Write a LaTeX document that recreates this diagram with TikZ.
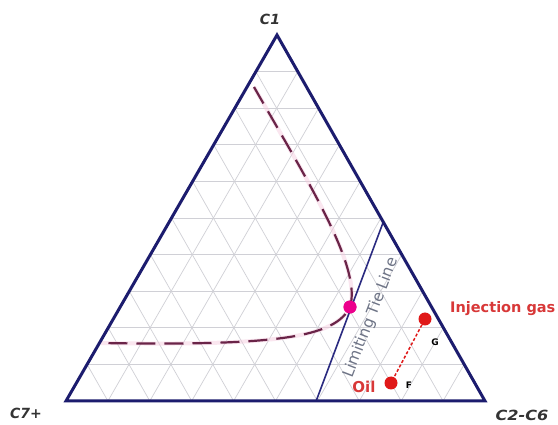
\documentclass[tikz,border=0pt]{standalone}
\usepackage{fontspec}
\setmainfont{DejaVu Sans}
\usetikzlibrary{calc}
\definecolor{navy}{HTML}{1C1C6E}
\definecolor{tieblue}{HTML}{2A2A80}
\definecolor{gridgray}{HTML}{D0D0D6}
\definecolor{curvecol}{HTML}{6A2448}
\definecolor{halo}{HTML}{F4C8DC}
\definecolor{redpt}{HTML}{E01818}
\definecolor{redtxt}{HTML}{D83838}
\definecolor{tietxt}{HTML}{6E7486}
\definecolor{cornertxt}{HTML}{333333}
\tikzset{
  frame/.style={draw=navy, line width=3pt, line join=miter},
  gridline/.style={draw=gridgray, line width=0.7pt},
  tieline/.style={draw=tieblue, line width=1.6pt},
  corner/.style={font=\fontsize{14}{14}\selectfont\bfseries\itshape, text=cornertxt, inner sep=0pt},
  curve/.style={draw=curvecol, line width=2.2pt, dash pattern=on 19pt off 9pt},
  curvehalo/.style={draw=halo, line width=4pt, opacity=0.45},
  reddot/.style={circle, fill=redpt, inner sep=0pt, minimum size=13pt},
  magdot/.style={circle, fill=magenta, inner sep=0pt, minimum size=13pt},
  ptlabel/.style={font=\fontsize{9}{9}\selectfont\bfseries, text=black, inner sep=0pt},
  redlabel/.style={text=redtxt, inner sep=0pt},
}
\begin{document}
\begin{tikzpicture}[x=1pt,y=-1pt]
\useasboundingbox (0,0) rectangle (558,425);
\fill[white] (0,0) rectangle (558,425);
% corners
\coordinate (A) at (66,401);
\coordinate (B) at (485,401);
\coordinate (C) at (277,35);
% grid
\foreach \t in {0.1,0.2,...,0.95}{
  \draw[gridline] ($(A)!\t!(C)$) -- ($(B)!\t!(C)$);
  \draw[gridline] ($(A)!\t!(B)$) -- ($(C)!\t!(B)$);
  \draw[gridline] ($(A)!\t!(B)$) -- ($(A)!\t!(C)$);
}
% dashed phase envelope
\coordinate (ctop) at (254,87);
\coordinate (cleft) at (101,343);
\node[magdot] (P) at (350,307) {};
\draw[curvehalo] (ctop) .. controls (310,185) and (362,268) .. (P.center)
      .. controls (335,337) and (280,346) .. (cleft);
\draw[curve] (ctop) .. controls (310,185) and (362,268) .. (P.center)
      .. controls (335,337) and (280,346) .. (cleft);
% limiting tie line
\coordinate (T1) at ($(A)!0.597!(B)$);
\coordinate (T2) at ($(B)!0.489!(C)$);
\draw[tieline] (T1) -- (T2);
\node[magdot] at (P) {};
\node[text=tietxt, font=\fontsize{15.5}{15.5}\selectfont, rotate=69, inner sep=0pt] (tl) at (371,318) {Limiting Tie Line};
% frame
\draw[frame] (A) -- (B) -- (C) -- cycle;
% corner labels
\node[corner] (c1) at (270,19) {C1};
\node[corner] (c7) at (26,413) {C7+};
\node[corner, xscale=1.15] (c26) at (522,415) {C2-C6};
% points
\node[reddot] (G) at (425,319) {};
\node[reddot] (F) at (391,383) {};
\draw[redpt, line width=1.5pt, dash pattern=on 3pt off 2pt] (G) -- (F);
\node[ptlabel] (Gl) at (435,342) {G};
\node[ptlabel] (Fl) at (409,385) {F};
\node[redlabel, font=\fontsize{14.5}{14.5}\selectfont\bfseries, anchor=west] (inj) at (450,309) {Injection gas};
\node[redlabel, font=\fontsize{15}{15}\selectfont\bfseries] (oil) at (364,387) {Oil};
\end{tikzpicture}
\end{document}
